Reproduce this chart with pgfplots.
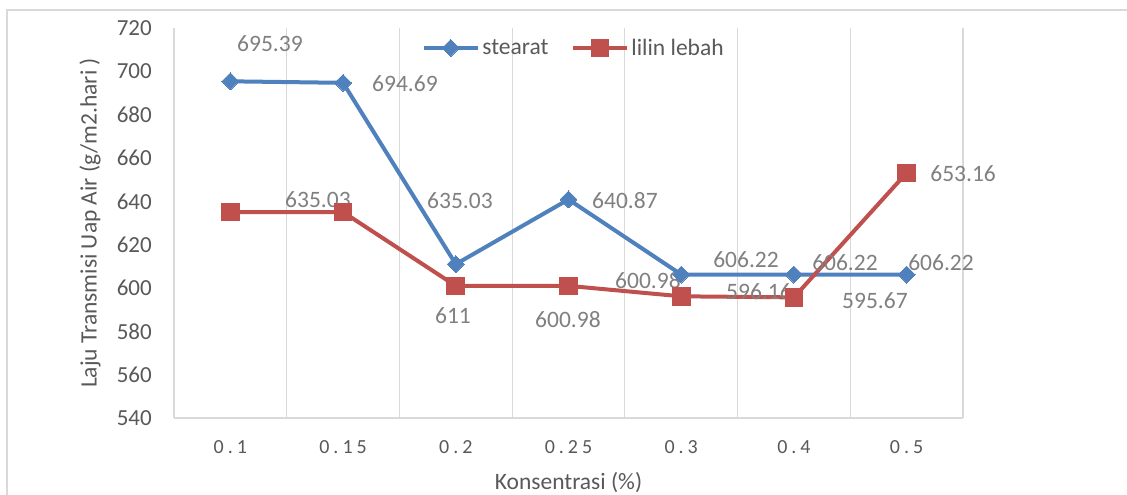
\documentclass[border=0pt]{standalone}
\usepackage{pgfplots}
\pgfplotsset{compat=1.18}
\usepackage{fontspec}
\setmainfont{Carlito}
\newfontfamily\spacedfont{Carlito}[LetterSpace=20]
\definecolor{sblue}{HTML}{4F81BD}
\definecolor{lred}{HTML}{C0504D}
\definecolor{ticktext}{HTML}{595959}
\definecolor{lbltext}{HTML}{808080}
\definecolor{gridc}{HTML}{D9D9D9}
\tikzset{lbl/.style={font=\fontsize{23.5}{28}\selectfont, text=lbltext, inner sep=0pt}}
\begin{document}
\begin{tikzpicture}[x=1pt,y=1pt]
\useasboundingbox (0,0) rectangle (1127,495);
\fill[white] (0,0) rectangle (1127,495);
\draw[gridc, line width=1.2pt] (7,-20) -- (7,485) -- (1150,485);
\begin{axis}[
  at={(174pt,77pt)}, anchor=south west, scale only axis,
  width=789pt, height=390pt,
  xmin=-0.5, xmax=6.5, ymin=540, ymax=720,
  xtick={0,...,6},
  xticklabels={{0.1},{0.15},{0.2},{0.25},{0.3},{0.4},{0.5}},
  ytick={540,560,...,720},
  minor xtick={-0.5,0.5,...,6.5},
  xminorgrids,
  minor grid style={gridc, line width=1.2pt},
  major tick length=0pt, minor tick length=0pt,
  axis x line*=bottom, axis y line*=left,
  x axis line style={gridc, line width=1.3pt, -},
  y axis line style={draw=none},
  clip=false,
  /pgf/number format/assume math mode=true,
  yticklabel style={font=\fontsize{23}{27}\selectfont, text=ticktext, inner sep=0pt, xshift=-22pt},
  xticklabel shift=22pt,
  xticklabel style={font=\spacedfont\fontsize{20}{24}\selectfont, text=ticktext, inner sep=0pt, anchor=north},
  xlabel={Konsentrasi (\%)},
  ylabel={Laju Transmisi Uap Air (g/m2.hari )},
  xlabel style={font=\fontsize{23.5}{28}\selectfont, text=ticktext, at={(axis description cs:0.5,-0.1667)}, anchor=center, inner sep=0pt},
  ylabel style={font=\fontsize{23.5}{28}\selectfont, text=ticktext, at={(axis description cs:-0.1065,0.5)}, anchor=center, inner sep=0pt},
  legend columns=2,
  legend style={draw=none, fill=none, at={(axis description cs:0.507,0.949)}, anchor=center,
    font=\fontsize{23.5}{28}\selectfont, text=ticktext,
    /tikz/every even column/.append style={column sep=20pt},
    nodes={inner sep=2.5pt}},
  legend image code/.code={\draw[mark repeat=2,mark phase=2,#1] plot coordinates {(0pt,0pt) (27pt,0pt) (54pt,0pt)};},
]
\addplot[sblue, line width=4pt, mark=square*, mark size=6pt, mark options={rotate=45, solid, line width=0pt}]
  coordinates {(0,695.39) (1,694.69) (2,611) (3,640.87) (4,606.22) (5,606.22) (6,606.22)};
\addlegendentry{stearat}
\addplot[lred, line width=4pt, mark=square*, mark size=8.8pt, mark options={solid, line width=0pt}]
  coordinates {(0,635.03) (1,635.03) (2,600.98) (3,600.98) (4,596.16) (5,595.67) (6,653.16)};
\addlegendentry{lilin lebah}
\node[lbl] at (axis cs:0.351,712.6) {695.39};
\node[lbl] at (axis cs:1.549,694.1) {694.69};
\node[lbl] at (axis cs:0.777,640.6) {635.03};
\node[lbl] at (axis cs:2.037,640.2) {635.03};
\node[lbl] at (axis cs:3.501,640.2) {640.87};
\node[lbl] at (axis cs:1.975,587.1) {611};
\node[lbl] at (axis cs:2.995,585.2) {600.98};
\node[lbl] at (axis cs:3.705,603.2) {600.98};
\node[lbl] at (axis cs:4.575,612.9) {606.22};
\node[lbl] at (axis cs:4.690,598.2) {596.16};
\node[lbl] at (axis cs:5.453,611.5) {606.22};
\node[lbl] at (axis cs:6.305,611.5) {606.22};
\node[lbl] at (axis cs:5.719,594.0) {595.67};
\node[lbl] at (axis cs:6.501,652.6) {653.16};
\end{axis}
\end{tikzpicture}
\end{document}
